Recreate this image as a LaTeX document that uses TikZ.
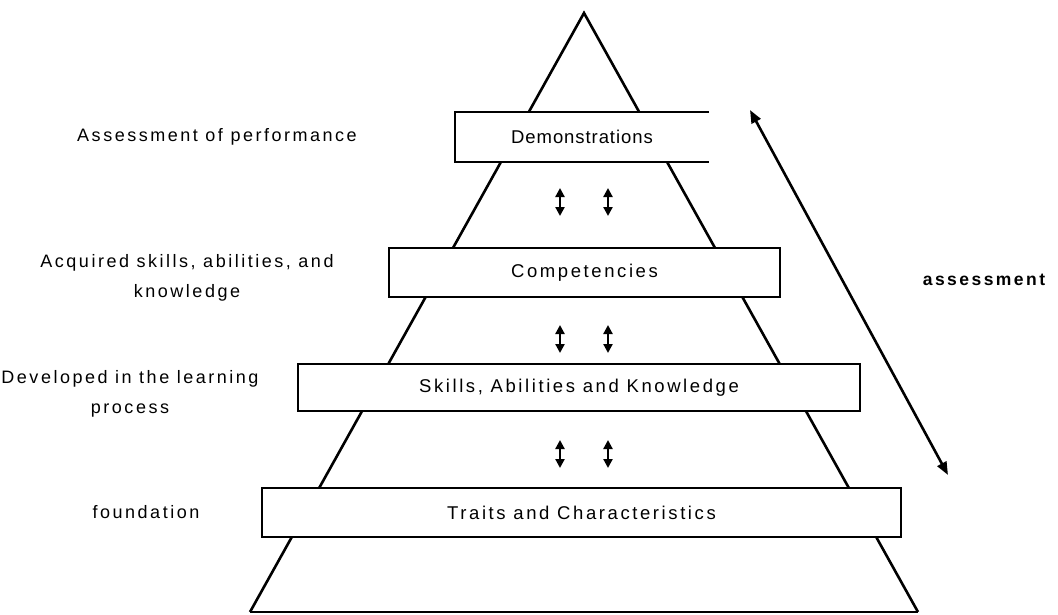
\documentclass[tikz,border=0pt]{standalone}
\usepackage{fontspec}
\setmainfont{Liberation Sans}
\usetikzlibrary{arrows.meta}
\newfontfamily\spaced[LetterSpace=14]{Liberation Sans}
\newfontfamily\tight[LetterSpace=5]{Liberation Sans}
\tikzset{
  side/.style={line width=2.6pt, line join=miter},
  base/.style={line width=1.6pt},
  tier/.style={fill=white, draw=black, line width=1.6pt, inner sep=0pt,
               font=\spaced\fontsize{18.5}{22}\selectfont},
  opentier/.style={fill=white, inner sep=0pt,
               font=\tight\fontsize{18.5}{22}\selectfont},
  label/.style={align=center, font=\spaced\fontsize{18}{30}\selectfont},
  biglabel/.style={font=\spaced\bfseries\fontsize{17.5}{21}\selectfont},
  link/.style={line width=2.2pt, {Triangle[length=9pt,width=9pt]}-{Triangle[length=9pt,width=9pt]}},
  trend/.style={line width=2.6pt, {Triangle[length=13pt,width=10pt]}-{Triangle[length=13pt,width=10pt]}}
}
\begin{document}
\begin{tikzpicture}[x=1pt,y=-1pt]
\useasboundingbox (0,0) rectangle (1058,614);
\fill[white] (0,0) rectangle (1058,614);

% pyramid outline
\coordinate (apex) at (584,13);
\coordinate (bl) at (250,612);
\coordinate (br) at (918,612);
\draw[side] (bl) -- (apex) -- (br);
\draw[base] (bl) -- (br);

% tiers
\node[opentier, minimum width=254pt, minimum height=50pt] (demo) at (582,137) {Demonstrations};
\draw[line width=1.6pt] (demo.north east) -- (demo.north west) -- (demo.south west) -- (demo.south east);
\node[tier, minimum width=391pt, minimum height=49pt] (comp) at (584.5,272.5) {Competencies};
\node[tier, minimum width=562pt, minimum height=47pt] (skill) at (579,387.5) {Skills, Abilities and Knowledge};
\node[tier, minimum width=639pt, minimum height=49pt] (trait) at (581.5,512.5) {Traits and Characteristics};

% links between tiers
\foreach \x/\n in {560/a,608/b}{
  \coordinate (\n1t) at (\x,188); \coordinate (\n1b) at (\x,216);
  \coordinate (\n2t) at (\x,325); \coordinate (\n2b) at (\x,353);
  \coordinate (\n3t) at (\x,440); \coordinate (\n3b) at (\x,468);
  \draw[link] (\n1t) -- (\n1b);
  \draw[link] (\n2t) -- (\n2b);
  \draw[link] (\n3t) -- (\n3b);
}

% side labels
\node[label] (l1) at (217,137) {Assessment of performance};
\node[label] (l2) at (187,278) {Acquired skills, abilities, and\\knowledge};
\node[label] (l3) at (130,394) {Developed in the learning\\process};
\node[label] (l4) at (146,512) {foundation};

% assessment direction
\coordinate (ttop) at (750,110);
\coordinate (tbot) at (948,475);
\draw[trend] (ttop) -- (tbot);
\node[biglabel] (al) at (984,280) {assessment};
\end{tikzpicture}
\end{document}
